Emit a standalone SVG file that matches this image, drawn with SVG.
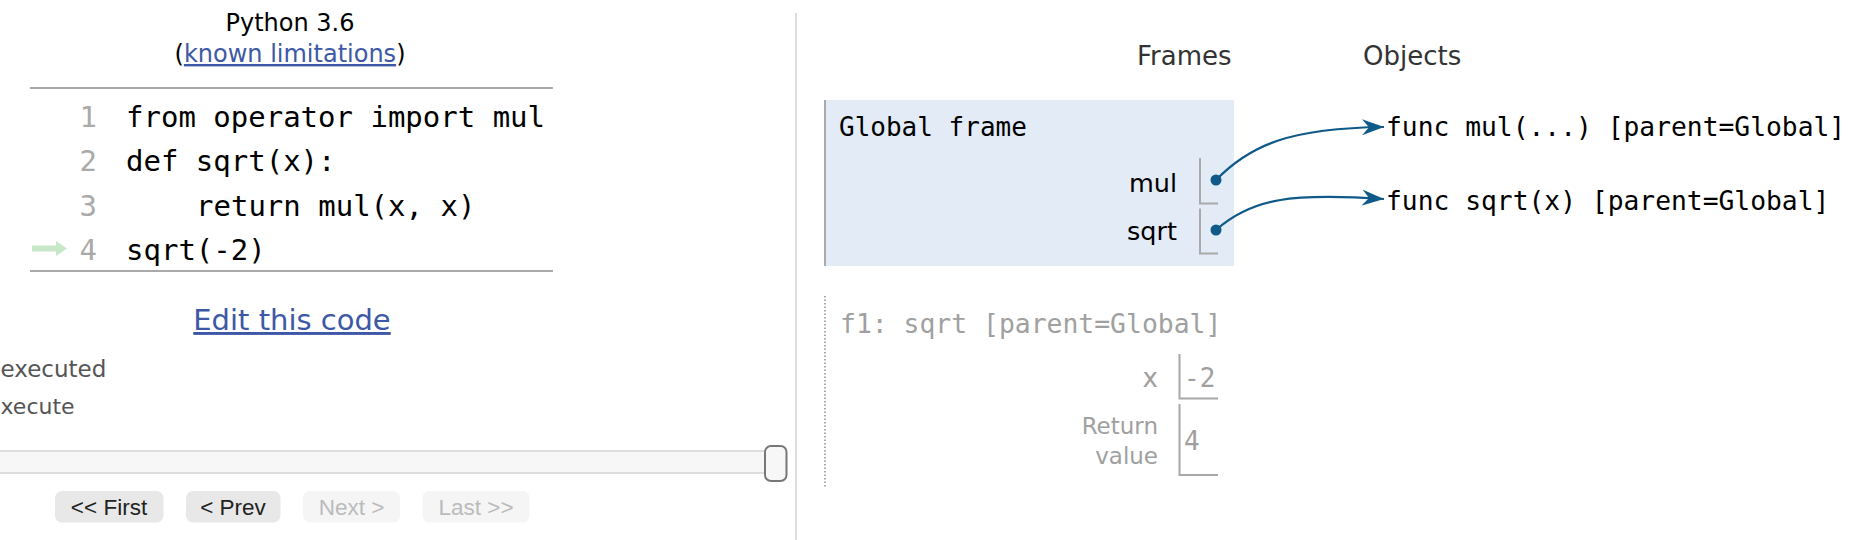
<svg xmlns="http://www.w3.org/2000/svg" width="1862" height="540" viewBox="0 0 1862 540">
<style>
.sans{font-family:"DejaVu Sans","Verdana",sans-serif}
.mono{font-family:"DejaVu Sans Mono","Liberation Mono",monospace}
.ui{font-family:"Liberation Sans","Arial",sans-serif}
.code{font-size:29px;fill:#000}
.ln{font-size:29px;fill:#aaaaaa}
.link{fill:#3d58a6}
.rule{stroke:#aaaaaa;stroke-width:2}
.cell{fill:none;stroke:#aaaaaa;stroke-width:2}
.gcell{fill:none;stroke:#a8a8a8;stroke-width:2}
.ptr{fill:none;stroke:#0f5a88;stroke-width:2.2}
.dot{fill:#0f5a88}
.btn{fill:#e8e8e8}
.btnoff{fill:#f5f5f5}
.btntext{font-size:22.5px;fill:#222}
.btntextoff{font-size:22.5px;fill:#bbbbbb}
.objtext{font-size:26.3px;fill:#000}
.faded{fill:#a0a0a0}
</style>
<defs>
<marker id="arrow" markerUnits="userSpaceOnUse" viewBox="0 0 22 16" refX="22" refY="8" markerWidth="22" markerHeight="16" orient="auto">
<path d="M0,0 L22,8 L0,16 L7,8 Z" fill="#0f5a88"/>
</marker>
</defs>
<rect width="1862" height="540" fill="#ffffff"/>

<g id="header">
<text class="sans" x="290" y="31" font-size="24" text-anchor="middle" fill="#000">Python 3.6</text>
<text class="sans" x="290" y="62" font-size="24" text-anchor="middle" fill="#000">(<tspan class="link" text-decoration="underline">known limitations</tspan>)</text>
</g>

<g id="code">
<line class="rule" x1="30" y1="88" x2="553" y2="88"/>
<line class="rule" x1="30" y1="271" x2="553" y2="271"/>
<text class="mono ln" x="79.5" y="126.5">1</text>
<text class="mono ln" x="79.5" y="171">2</text>
<text class="mono ln" x="79.5" y="215.5">3</text>
<text class="mono ln" x="79.5" y="260">4</text>
<text class="mono code" x="126" y="126.5">from operator import mul</text>
<text class="mono code" x="126" y="171">def sqrt(x):</text>
<text class="mono code" x="196" y="215.5">return mul(x, x)</text>
<text class="mono code" x="126" y="260">sqrt(-2)</text>
<path d="M32,245.5 L56,245.5 L56,241 L67,248.5 L56,256 L56,251.5 L32,251.5 Z" fill="#c8e6c8"/>
</g>

<g id="controls">
<text class="sans link" x="292" y="330" font-size="29" text-anchor="middle" text-decoration="underline">Edit this code</text>
<text class="sans" x="0.5" y="377" font-size="23" fill="#555">executed</text>
<text class="sans" x="0.5" y="414" font-size="22" fill="#555">xecute</text>
<rect x="-4" y="451" width="772" height="22" fill="#f7f7f7" stroke="#dddddd" stroke-width="2"/>
<rect x="765" y="446" width="21.5" height="35" rx="6" fill="#f7f7f7" stroke="#777777" stroke-width="2"/>
<rect class="btn" x="55" y="491" width="108.5" height="31.5" rx="7"/>
<rect class="btn" x="186" y="491" width="94.5" height="31.5" rx="7"/>
<rect class="btnoff" x="303" y="491" width="97" height="31.5" rx="7"/>
<rect class="btnoff" x="422.5" y="491" width="107" height="31.5" rx="7"/>
<text class="ui btntext" x="109" y="515" text-anchor="middle">&lt;&lt; First</text>
<text class="ui btntext" x="233" y="515" text-anchor="middle">&lt; Prev</text>
<text class="ui btntextoff" x="351.5" y="515" text-anchor="middle">Next &gt;</text>
<text class="ui btntextoff" x="476" y="515" text-anchor="middle">Last &gt;&gt;</text>
</g>

<line id="divider" x1="796" y1="13" x2="796" y2="540" stroke="#dddddd" stroke-width="2"/>

<g id="headings">
<text class="sans" x="1137" y="64.5" font-size="26" fill="#333">Frames</text>
<text class="sans" x="1363" y="64.5" font-size="26" fill="#333">Objects</text>
</g>

<g id="global-frame">
<rect x="824" y="100" width="410" height="166" fill="#e2ebf6"/>
<line x1="825" y1="100" x2="825" y2="266" stroke="#aaaaaa" stroke-width="2"/>
<text class="mono" x="839" y="136" font-size="26" fill="#000">Global frame</text>
</g>

<g id="var-mul">
<text class="sans" x="1177" y="191.5" font-size="25.5" text-anchor="end" fill="#000">mul</text>
<path class="cell" d="M1200,158 L1200,203.5 L1218,203.5"/>
</g>

<g id="var-sqrt">
<text class="sans" x="1177" y="240" font-size="25.5" text-anchor="end" fill="#000">sqrt</text>
<path class="cell" d="M1200,208.5 L1200,253.5 L1218,253.5"/>
</g>

<g id="obj-mul">
<text class="mono objtext" x="1386" y="136">func mul(...) [parent=Global]</text>
</g>

<g id="obj-sqrt">
<text class="mono objtext" x="1386" y="210">func sqrt(x) [parent=Global]</text>
</g>

<g id="frame-f1">
<line x1="825" y1="296" x2="825" y2="487" stroke="#aaaaaa" stroke-width="2" stroke-dasharray="1.5 2"/>
<text class="mono faded" x="840" y="332.5" font-size="26.4">f1: sqrt [parent=Global]</text>
<text class="sans faded" x="1158" y="386.5" font-size="26" text-anchor="end">x</text>
<path class="gcell" d="M1179.5,354 L1179.5,398.5 L1218,398.5"/>
<text class="mono faded" x="1184" y="386.5" font-size="26">-2</text>
<text class="sans faded" x="1158" y="434" font-size="23" text-anchor="end">Return</text>
<text class="sans faded" x="1158" y="463.5" font-size="23" text-anchor="end">value</text>
<path class="gcell" d="M1179.5,404 L1179.5,475 L1218,475"/>
<text class="mono faded" x="1184" y="449.5" font-size="26">4</text>
</g>

<g id="connectors">
<path class="ptr" d="M1216,180 C1250,145 1290,128 1384,127" marker-end="url(#arrow)"/>
<path class="ptr" d="M1216,230 C1252,198 1292,193 1384,199" marker-end="url(#arrow)"/>
<circle class="dot" cx="1216" cy="180" r="5.5"/>
<circle class="dot" cx="1216" cy="230" r="5.5"/>
</g>
</svg>
